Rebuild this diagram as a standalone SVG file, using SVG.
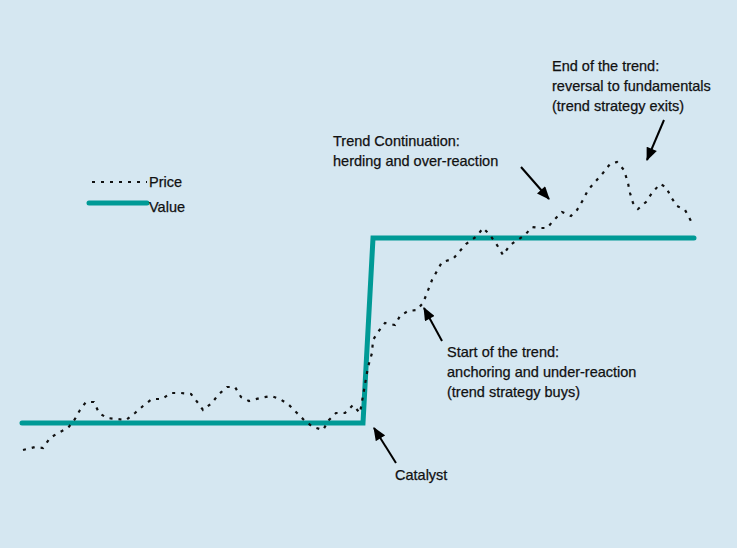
<svg xmlns="http://www.w3.org/2000/svg" width="737" height="548" viewBox="0 0 737 548">
<style>
.t{font-family:"Liberation Sans",Arial,sans-serif;font-size:14.5px;fill:#111;stroke:#111;stroke-width:0.25}
.val{fill:none;stroke:#009a96;stroke-width:5;stroke-linecap:round;stroke-linejoin:miter}
.price{fill:none;stroke:#111;stroke-width:2.2;stroke-dasharray:3 6}
.arr{fill:none;stroke:#000;stroke-width:2;marker-end:url(#ah)}
</style>
<defs>
<marker id="ah" viewBox="0 0 12 10" refX="11" refY="5" markerWidth="7" markerHeight="5.5" orient="auto" markerUnits="strokeWidth">
<path d="M0,0 L12,5 L0,10 Z" fill="#000"/>
</marker>
</defs>
<rect x="0" y="0" width="737" height="548" fill="#d5e7f1"/>
<g id="value-line">
<polyline class="val" points="22,423 363,423 373,238 694,238"/>
</g>
<g id="price-line">
<polyline class="price" points="23,450 35,447 43,448 50,438 58,433 68,428 75,419 80,410 86,402 94,402 99,413 107,418 117,419 126,420 135,413 143,406 152,399 162,399 171,393 181,393 191,394 198,403 203,410 212,403 218,395 227,387 235,387 241,397 249,401 260,398 271,396 280,399 289,405 297,413 305,421 313,427 323,430 329,420 336,413 345,413 353,405 360,413 368,367 372,353 373,340 378,332 385,323 395,325 400,316 408,311 417,310 423,303 427,293 432,280 437,271 442,262 453,259 459,252 466,244 477,236 483,228 490,235 497,245 503,255 510,245 525,235 532,227 540,228 547,228 554,220 562,212 571,216 577,210 583,200 588,190 595,182 603,173 610,164 617,162 624,170 628,183 630,193 633,203 638,209 646,202 652,193 660,184 666,187 671,197 677,206 685,210 691,221"/>
</g>
<g id="legend">
<line class="price" x1="92" y1="182" x2="147" y2="182"/>
<text class="t" x="149" y="187">Price</text>
<line class="val" x1="89" y1="203" x2="147" y2="203"/>
<text class="t" x="149" y="212">Value</text>
</g>
<g id="connectors">
<line class="arr" x1="396" y1="463" x2="374" y2="428"/>
<line class="arr" x1="442" y1="341" x2="424" y2="308"/>
<line class="arr" x1="521" y1="167" x2="549" y2="199"/>
<line class="arr" x1="664" y1="120" x2="647" y2="160"/>
</g>
<g id="catalyst">
<text class="t" x="395" y="480">Catalyst</text>
</g>
<g id="start-trend">
<text class="t" x="447" y="357">Start of the trend:</text>
<text class="t" x="447" y="377">anchoring and under-reaction</text>
<text class="t" x="447" y="397">(trend strategy buys)</text>
</g>
<g id="trend-continuation">
<text class="t" x="333" y="146">Trend Continuation:</text>
<text class="t" x="333" y="166">herding and over-reaction</text>
</g>
<g id="end-trend">
<text class="t" x="552" y="71">End of the trend:</text>
<text class="t" x="552" y="91">reversal to fundamentals</text>
<text class="t" x="552" y="111">(trend strategy exits)</text>
</g>
</svg>
